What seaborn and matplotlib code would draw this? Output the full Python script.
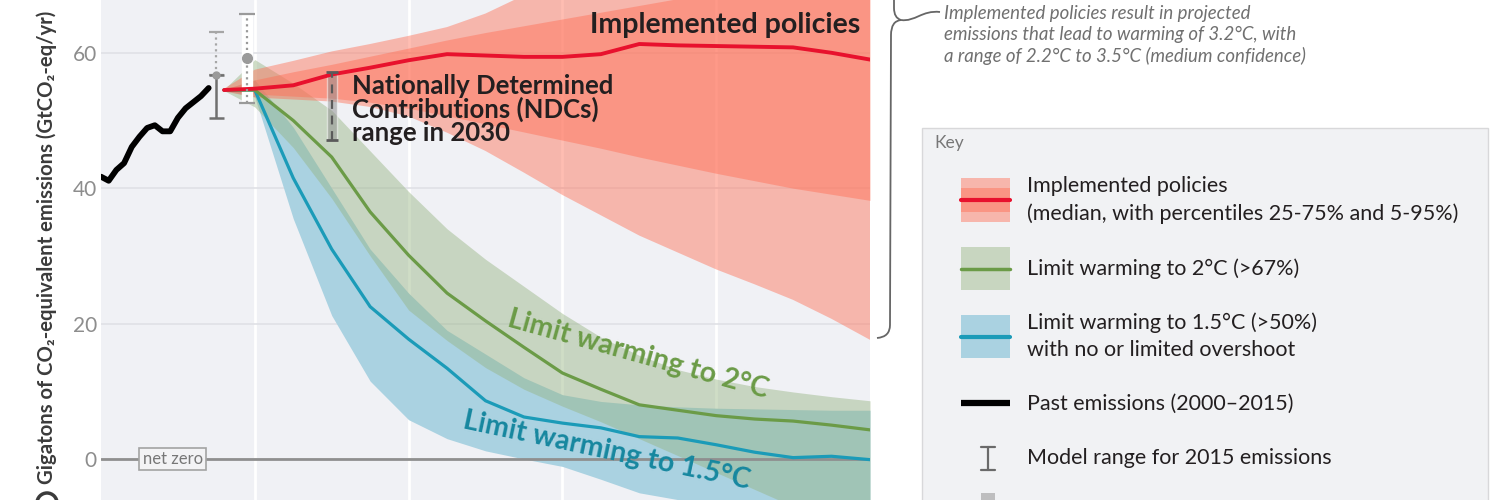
"""Emission pathways: implemented policies vs. limiting warming to 2°C and 1.5°C."""

import matplotlib.pyplot as plt
import seaborn as sns
from matplotlib.patches import Circle, PathPatch, Rectangle
from matplotlib.path import Path

# past emissions (GtCO2-eq/yr)
past_years = list(range(2000, 2015))
past_emissions = [41.7, 41.1, 42.7, 43.7, 46.1, 47.6, 48.9, 49.3, 48.4, 48.4,
                  50.4, 51.8, 52.7, 53.6, 54.8]

# modelled pathways
proj_years = [2016, 2020, 2025, 2030, 2035, 2040, 2045, 2050, 2055, 2060,
              2065, 2070, 2075, 2080, 2085, 2090, 2095, 2100]

policy_median = [54.5, 54.7, 55.2, 56.8, 57.8, 58.9, 59.8, 59.6, 59.4, 59.4,
                 59.8, 61.3, 61.1, 61.0, 60.9, 60.8, 60.0, 59.0]
policy_p25 = [54.4, 53.9, 53.6, 53.3, 52.7, 51.8, 50.7, 49.5, 48.3, 47.1,
              45.9, 44.6, 43.4, 42.2, 41.1, 40.0, 39.1, 38.2]
policy_p75 = [54.6, 56.0, 57.2, 58.3, 59.5, 60.7, 61.9, 63.0, 64.0, 65.0,
              66.0, 67.0, 68.0, 69.0, 70.0, 71.0, 72.0, 73.0]
policy_p5 = [54.3, 53.4, 53.1, 52.8, 52.0, 50.6, 48.2, 45.5, 42.3, 39.0,
             36.0, 33.0, 30.5, 28.0, 25.8, 23.5, 20.7, 17.6]
policy_p95 = [54.7, 57.5, 58.8, 60.2, 61.3, 62.5, 63.8, 65.8, 68.5, 71.5,
              74.0, 77.0, 79.5, 82.0, 84.5, 87.0, 89.5, 92.0]

c2_median = [54.5, 54.5, 50.0, 44.6, 36.5, 30.1, 24.5, 20.4, 16.5, 12.7,
             10.3, 8.0, 7.2, 6.4, 5.9, 5.6, 5.0, 4.3]
c2_p5 = [54.4, 52.0, 46.0, 38.5, 30.0, 22.0, 17.5, 13.5, 10.3, 7.8,
         5.5, 3.0, 0.5, -2.0, -4.5, -7.0, -9.0, -11.0]
c2_p95 = [54.6, 59.0, 55.5, 51.5, 45.5, 39.5, 34.0, 29.5, 25.5, 21.5,
          18.0, 15.3, 13.2, 11.8, 10.7, 9.9, 9.2, 8.6]

c15_median = [54.5, 54.5, 41.5, 31.0, 22.5, 17.7, 13.4, 8.6, 6.2, 5.3,
              4.6, 3.3, 3.1, 2.1, 1.0, 0.2, 0.4, -0.1]
c15_p5 = [54.4, 53.5, 35.5, 21.2, 11.5, 5.8, 3.0, 1.2, 0.0, -1.1,
          -3.0, -5.0, -6.0, -7.0, -8.0, -8.5, -9.0, -9.5]
c15_p95 = [54.6, 56.0, 49.0, 40.0, 31.0, 24.5, 19.0, 15.5, 12.0, 9.5,
           8.5, 8.0, 7.7, 7.5, 7.4, 7.3, 7.2, 7.2]

# ranges: (year, low, median, high)
model_range_2015 = (2015, 50.4, 56.7, 63.1)
emissions_2019 = (2019, 52.6, 59.2, 65.8)
ndc_range_2030 = (2030, 47.1, 57.1)

y_ticks = [0, 20, 40, 60]
x_grid = [2020, 2040, 2060, 2080]

RED = "#e8112d"
RED_FILL = "#ff6e55"
GREEN = "#6b9b47"
GREEN_FILL = "#96b482"
BLUE = "#1b9bb8"
BLUE_FILL = "#aad2e1"
TEXT = "#231f20"


def draw_range(ax, x, lo, hi, color, lw, ls="-", half=1.0, zorder=4):
    ax.vlines(x, lo, hi, color=color, linewidth=lw, linestyles=ls, zorder=zorder)
    ax.hlines([lo, hi], x - half, x + half, color=color, linewidth=lw, zorder=zorder)


def main() -> None:
    sns.set_theme(style="white")
    plt.rcParams["font.family"] = ["Lato", "DejaVu Sans"]

    fig = plt.figure(figsize=(15, 5), dpi=100)
    fig.patch.set_facecolor("white")
    ax = fig.add_axes([101 / 1500, 0, 769 / 1500, 1])
    ax.set_facecolor("#f0f1f5")
    ax.set_xlim(2000, 2100)
    ax.set_ylim(-6.06, 67.8)

    # bands
    ax.fill_between(proj_years, c15_p5, c15_p95, color=BLUE_FILL, lw=0, zorder=1)
    ax.fill_between(proj_years, c2_p5, c2_p95, color=GREEN_FILL, alpha=0.45, lw=0, zorder=1.1)
    ax.fill_between(proj_years, policy_p5, policy_p95, color=RED_FILL, alpha=0.45, lw=0, zorder=1.2)
    ax.fill_between(proj_years, policy_p25, policy_p75, color=RED_FILL, alpha=0.45, lw=0, zorder=1.3)

    ax.axhline(0, color="#8f8f8f", linewidth=2, zorder=1.5)

    # medians
    for values, color, width in [
        (c15_median, BLUE, 2.3),
        (c2_median, GREEN, 2.3),
        (policy_median, RED, 2.8),
    ]:
        sns.lineplot(x=proj_years, y=values, color=color, linewidth=width, ax=ax, zorder=3)
    sns.lineplot(x=past_years, y=past_emissions, color="black", linewidth=4.2, ax=ax, zorder=4)

    # 2015 model range
    x, lo, mid, hi = model_range_2015
    draw_range(ax, x, mid, hi, "#a6a6a6", 1.6, ls=":")
    draw_range(ax, x, lo, mid, "#6f6f6f", 1.8)
    ax.plot([x], [mid], marker="o", markersize=5, color="#9a9a9a", zorder=5)

    # 2019 emissions and uncertainty
    x, lo, mid, hi = emissions_2019
    ax.bar(x, hi - lo, bottom=lo, width=1.3, color="white", zorder=2.5)
    draw_range(ax, x, lo, hi, "#9a9a9a", 1.6, ls=":")
    ax.plot([x], [mid], marker="o", markersize=7, color="#9a9a9a", zorder=5)

    # NDC range 2030
    x, lo, hi = ndc_range_2030
    ax.bar(x, hi - lo, bottom=lo, width=1.3, color="#8c8c8c", alpha=0.5, zorder=2.5)
    ax.vlines(x, lo, hi, color="#5a5a5a", linewidth=1.6, linestyles=(0, (4, 3)), zorder=4)
    ax.hlines([lo, hi], x - 0.8, x + 0.8, color="#5a5a5a", linewidth=2, zorder=4)

    ax.text(2005.4, 0, "net zero", fontsize=12, color="#777777", va="center", zorder=6,
            bbox=dict(boxstyle="square,pad=0.2", fc="#f3f3f5", ec="#a3a3a3", lw=1.2))

    ax.text(2098.7, 64.1, "Implemented policies", fontsize=20.5, fontweight="bold",
            color=TEXT, ha="right", va="center", zorder=6)
    ax.text(2032.6, 56.85, "Nationally Determined\nContributions (NDCs)\nrange in 2030",
            fontsize=18.5, fontweight="bold", color=TEXT, ha="left", va="top",
            linespacing=0.93, zorder=6)
    ax.text(2069.8, 15.4, "Limit warming to 2°C", fontsize=20.5, fontweight="bold",
            color=GREEN, rotation=-15.5, ha="center", va="center", zorder=6)
    ax.text(2065.8, 1.2, "Limit warming to 1.5°C", fontsize=20.5, fontweight="bold",
            color="#16879f", rotation=-12, ha="center", va="center", zorder=6)

    ax.set_xticks(x_grid)
    ax.set_xticklabels([])
    ax.set_yticks(y_ticks)
    ax.tick_params(axis="both", length=0)
    ax.tick_params(axis="y", labelsize=15, labelcolor="#8d8d8d", pad=3)
    ax.xaxis.grid(True, color="white", linewidth=2)
    ax.yaxis.grid(True, color="#e0e1e6", linewidth=1.2)
    ax.set_axisbelow(True)
    ax.set_xlabel("")
    ax.set_ylabel("")
    sns.despine(ax=ax, left=True, bottom=True)

    # overlay in pixel coordinates for labels, brace and key
    ov = fig.add_axes([0, 0, 1, 1])
    ov.set_xlim(0, 1500)
    ov.set_ylim(500, 0)
    ov.axis("off")
    ov.patch.set_alpha(0)

    ov.text(47, 484, "Gigatons of CO₂-equivalent emissions (GtCO₂-eq/yr)", rotation=90,
            ha="center", va="bottom", fontsize=14.6, fontweight="bold", color="#3b3b3b")
    ov.add_patch(Circle((47, 503), 10, fill=False, ec="#3b3b3b", lw=2.5))

    brace = "#666666"
    lower = Path([(877, 338), (890, 337), (890, 325), (891, 35), (891, 21), (901, 20)],
                 [Path.MOVETO, Path.CURVE3, Path.CURVE3, Path.LINETO, Path.CURVE3, Path.CURVE3])
    upper = Path([(901, 20), (894, 18), (894, 8), (894, -5)],
                 [Path.MOVETO, Path.CURVE3, Path.CURVE3, Path.LINETO])
    link = Path([(901, 20), (915, 22), (922, 10), (940, 12)],
                [Path.MOVETO, Path.CURVE4, Path.CURVE4, Path.CURVE4])
    for p in (lower, upper, link):
        ov.add_patch(PathPatch(p, fill=False, ec=brace, lw=1.3))

    ov.text(944, 35, "Implemented policies result in projected\n"
            "emissions that lead to warming of 3.2°C, with\n"
            "a range of 2.2°C to 3.5°C (medium confidence)",
            fontsize=13.4, style="italic", color="#707070", va="center", linespacing=1.3)

    # key
    ov.add_patch(Rectangle((922, 128), 566, 400, fc="#f1f2f4", ec="#d8d8da", lw=1))
    ov.text(934, 143, "Key", fontsize=12.5, color="#777777", va="center")

    ov.add_patch(Rectangle((961, 178), 49, 44, fc=RED_FILL, alpha=0.45, lw=0))
    ov.add_patch(Rectangle((961, 188), 49, 24, fc=RED_FILL, alpha=0.45, lw=0))
    ov.plot([961, 1010], [200, 200], color=RED, lw=3)
    ov.add_patch(Rectangle((961, 247), 49, 43, fc=GREEN_FILL, alpha=0.45, lw=0))
    ov.plot([961, 1010], [269, 269], color=GREEN, lw=2.5)
    ov.add_patch(Rectangle((961, 315), 49, 43, fc=BLUE_FILL, lw=0))
    ov.plot([961, 1010], [337, 337], color=BLUE, lw=3)
    ov.plot([961, 1010], [403, 403], color="black", lw=4.5, solid_capstyle="butt")
    ov.plot([988, 988], [447, 470], color="#6a6a6a", lw=1.6)
    ov.plot([981, 995], [447, 447], color="#6a6a6a", lw=1.6)
    ov.plot([981, 995], [470, 470], color="#6a6a6a", lw=1.6)
    ov.add_patch(Rectangle((981, 493), 14, 20, fc="#a9a9a9", alpha=0.7, lw=0))

    key_items = [
        (200, "Implemented policies\n(median, with percentiles 25-75% and 5-95%)"),
        (269, "Limit warming to 2°C (>67%)"),
        (336, "Limit warming to 1.5°C (>50%)\nwith no or limited overshoot"),
        (404, "Past emissions (2000–2015)"),
        (458, "Model range for 2015 emissions"),
    ]
    for y, label in key_items:
        ov.text(1027, y, label, fontsize=15.5, color=TEXT, va="center", linespacing=1.42)

    fig.savefig("out.png", dpi=100)
    plt.close(fig)


if __name__ == "__main__":
    main()
